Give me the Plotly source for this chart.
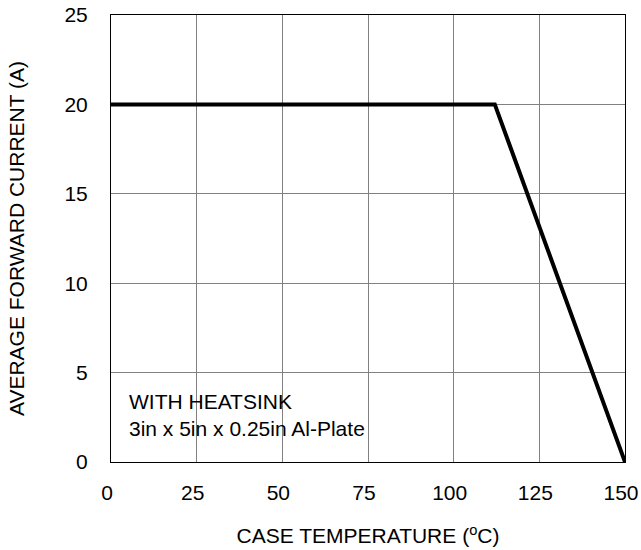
import plotly.graph_objects as go

temps = [0, 112, 150]
current = [20, 20, 0]
x_ticks = [0, 25, 50, 75, 100, 125, 150]
y_ticks = [0, 5, 10, 15, 20, 25]

font = "Liberation Sans, Arial, sans-serif"
FS = 21

fig = go.Figure()
fig.add_trace(go.Scatter(x=temps, y=current, mode="lines",
                         line=dict(color="black", width=4), showlegend=False))

fig.add_annotation(x=4.6, y=2.65, xref="x", yref="y", xanchor="left", yanchor="middle",
                   align="left", showarrow=False,
                   text="WITH HEATSINK<br>3in x 5in x 0.25in Al-Plate",
                   font=dict(family=font, size=FS, color="black"))

axis_common = dict(showgrid=True, gridcolor="#808080", gridwidth=1,
                   showline=True, linecolor="black", linewidth=1, mirror=True,
                   zeroline=False, ticks="", automargin=False,
                   ticklabeloverflow="allow",
                   tickfont=dict(family=font, size=FS, color="black"))

fig.update_xaxes(range=[0, 150], tickvals=x_ticks,
                 title=dict(text="CASE TEMPERATURE (<sup>o</sup>C)",
                            font=dict(family=font, size=FS, color="black"), standoff=25),
                 ticklabelstandoff=12, ticklabelshift=-4, **axis_common)
fig.update_yaxes(range=[0, 25], tickvals=y_ticks,
                 title=dict(text="AVERAGE FORWARD CURRENT (A)",
                            font=dict(family=font, size=FS, color="black"), standoff=34),
                 ticklabelstandoff=18, **axis_common)

fig.update_layout(width=641, height=550, margin=dict(l=111, r=16, t=15, b=88),
                  plot_bgcolor="white", paper_bgcolor="white",
                  font=dict(family=font, size=FS, color="black"))

fig.write_html("out.html", config={"displayModeBar": False},
               post_script="document.body.style.margin='0';")
